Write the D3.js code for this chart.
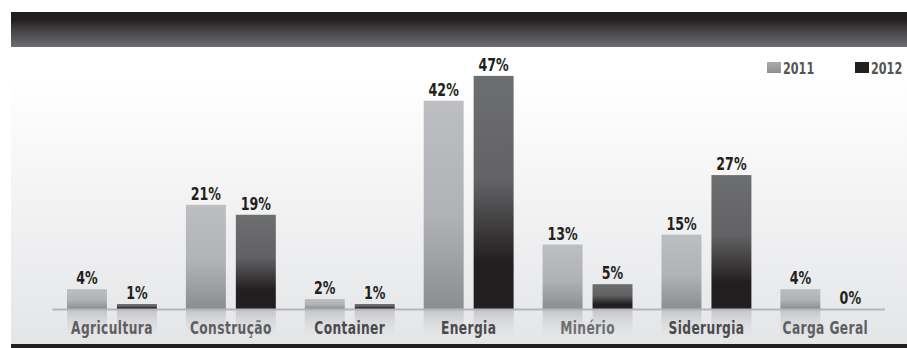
<!DOCTYPE html>
<html>
<head>
<meta charset="utf-8">
<script src="https://cdn.jsdelivr.net/npm/d3@7"></script>
<style>
  html, body { margin: 0; padding: 0; background: #ffffff; }
  svg { display: block; }
  .cond { font-family: "Liberation Sans Narrow", "DejaVu Sans Condensed", "Arial Narrow", sans-serif; font-weight: bold; font-stretch: condensed; }
</style>
</head>
<body>
<svg id="chart" width="907" height="348"></svg>
<script>
const categories = ["Agricultura", "Construção", "Container", "Energia", "Minério", "Siderurgia", "Carga Geral"];
const years = ["2011", "2012"];
const values2011 = [4, 21, 2, 42, 13, 15, 4];
const values2012 = [1, 19, 1, 47, 5, 27, 0];
const labelColors = ["#5e5e61", "#5e5e61", "#4a4a4d", "#4a4a4d", "#6e6e71", "#4a4a4d", "#5e5e61"];

const seriesByYear = { "2011": values2011, "2012": values2012 };
const rows = categories.map((c, i) => ({ category: c, i, values: years.map(y => ({ year: y, value: seriesByYear[y][i] })) }));

const svg = d3.select("#chart");
const W = 907, H = 348;
const defs = svg.append("defs");

function vgrad(id, stops) {
  const g = defs.append("linearGradient").attr("id", id).attr("x1", 0).attr("y1", 0).attr("x2", 0).attr("y2", 1);
  stops.forEach(s => g.append("stop").attr("offset", s[0]).attr("stop-color", s[1]).attr("stop-opacity", s[2] === undefined ? 1 : s[2]));
}
vgrad("hdr", [[0, "#231f20"], [0.22, "#231f20"], [0.6, "#4a4a4c"], [1, "#6d6e70"]]);
vgrad("panel", [[0, "#ffffff"], [0.15, "#fbfbfb"], [1, "#e4e5e7"]]);
vgrad("g2011", [[0, "#bdbec1"], [0.55, "#b1b2b5"], [1, "#8c8d90"]]);
vgrad("g2012", [[0, "#6d6e70"], [0.45, "#626264"], [0.8, "#231f20"], [1, "#231f20"]]);
vgrad("refl", [[0, "#c4c5c8", 1], [1, "#e4e5e7", 0]]);
vgrad("leg2011", [[0, "#a9aaad"], [1, "#8f9093"]]);

// background panel
svg.append("rect").attr("x", 11).attr("y", 78).attr("width", W - 11).attr("height", 268).attr("fill", "url(#panel)");
// header bar
svg.append("rect").attr("x", 11).attr("y", 12).attr("width", W - 11).attr("height", 35).attr("fill", "url(#hdr)");
// bottom black band
svg.append("rect").attr("x", 11).attr("y", 344).attr("width", W - 11).attr("height", 4).attr("fill", "#231f20");

const x0 = d3.scaleBand().domain(categories).range([52.5, 884.8]).padding(0);
const bw = x0.bandwidth();
const x1 = d3.scaleBand().domain(years).range([14.5, bw - 14.5]).paddingInner(0.2).paddingOuter(0);
const baseY = 309;
const y = d3.scaleLinear().domain([0, 50]).range([baseY, 61]);

const groups = svg.append("g").selectAll("g").data(rows).join("g")
  .attr("transform", d => `translate(${x0(d.category)},0)`);

// reflections
groups.selectAll("rect.refl").data(d => d.values.filter(v => v.value > 0)).join("rect")
  .attr("class", "refl")
  .attr("x", v => x1(v.year)).attr("width", x1.bandwidth())
  .attr("y", baseY + 1).attr("height", 31)
  .attr("fill", "url(#refl)");

// bars
groups.selectAll("rect.bar").data(d => d.values).join("rect")
  .attr("class", "bar")
  .attr("x", v => x1(v.year)).attr("width", x1.bandwidth())
  .attr("y", v => y(v.value)).attr("height", v => baseY - y(v.value))
  .attr("fill", v => v.year === "2011" ? "url(#g2011)" : "url(#g2012)");

// value labels (condensed by horizontal scaling)
groups.selectAll("text.val").data(d => d.values).join("text")
  .attr("class", "val cond")
  .attr("transform", v => `translate(${x1(v.year) + x1.bandwidth() / 2},${y(v.value) - 5}) scale(0.78,1)`)
  .attr("text-anchor", "middle")
  .attr("font-size", 18)
  .attr("fill", "#231f20")
  .text(v => v.value + "%");

// baseline
svg.append("line").attr("x1", 52.5).attr("x2", 884.8).attr("y1", baseY + 0.5).attr("y2", baseY + 0.5)
  .attr("stroke", "#b4b5b8").attr("stroke-width", 2);

// category labels
svg.append("g").selectAll("text").data(rows).join("text")
  .attr("class", "cond")
  .attr("transform", d => `translate(${x0(d.category) + bw / 2},334) scale(0.8,1)`)
  .attr("text-anchor", "middle")
  .attr("font-size", 17)
  .attr("letter-spacing", 0.5)
  .attr("fill", (d, i) => labelColors[i])
  .text(d => d.category);

// legend
const legendX = [767, 855];
const legend = svg.append("g").selectAll("g").data(years).join("g")
  .attr("transform", (d, i) => `translate(${legendX[i]},62)`);
legend.append("rect").attr("width", 14).attr("height", 11)
  .attr("fill", d => d === "2011" ? "url(#leg2011)" : "#231f20");
legend.append("text").attr("class", "cond")
  .attr("transform", "translate(16,11.5) scale(0.78,1)")
  .attr("font-size", 16).attr("fill", "#555558").text(d => d);
</script>
</body>
</html>
